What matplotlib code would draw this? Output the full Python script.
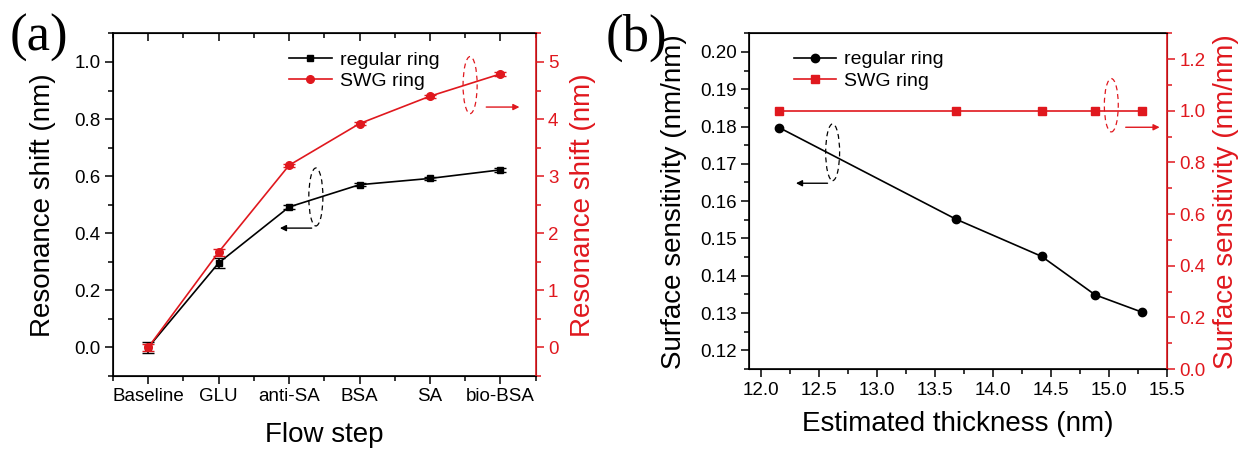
import matplotlib
matplotlib.use("Agg")
import matplotlib.pyplot as plt
import numpy as np
from matplotlib.patches import Ellipse
from matplotlib.lines import Line2D
from matplotlib.ticker import MultipleLocator, FormatStrFormatter

plt.rcParams['font.family'] = ['Liberation Sans', 'DejaVu Sans']

RED = '#e0181e'
TICK_FS = 13.5
LABEL_FS = 20

# panel (a) data
steps = ["Baseline", "GLU", "anti-SA", "BSA", "SA", "bio-BSA"]
regular_shift = [0.0, 0.296, 0.492, 0.570, 0.592, 0.622]
regular_err = [0.02, 0.017, 0.006, 0.006, 0.006, 0.008]
swg_shift = [0.0, 1.67, 3.19, 3.92, 4.40, 4.79]
swg_err = [0.06, 0.06, 0.03, 0.03, 0.03, 0.03]

# panel (b) data
thickness = [12.16, 13.68, 14.42, 14.88, 15.28]
regular_sens = [0.1797, 0.1552, 0.1452, 0.1349, 0.1303]
swg_sens = [1.0, 1.0, 1.0, 1.0, 1.0]

fig = plt.figure(figsize=(12.43, 4.49), dpi=100)


def style_axes(a, a2):
    a.tick_params(axis='both', which='both', direction='out', labelsize=TICK_FS, width=1.1, pad=3)
    a.tick_params(which='major', length=6)
    a.tick_params(which='minor', length=3.5)
    a2.tick_params(axis='y', which='both', direction='out', colors=RED, labelsize=TICK_FS, width=1.1, pad=3)
    a2.tick_params(which='major', length=6)
    a2.tick_params(which='minor', length=3.5)
    a2.spines['right'].set_color(RED)
    for s in ['left', 'top', 'bottom']:
        a.spines[s].set_linewidth(1.2)
    a2.spines['right'].set_linewidth(1.2)


# ---------------- (a) ----------------
ax = fig.add_axes([0.0909, 0.1626, 0.34, 0.763])
ax2 = ax.twinx()
x = np.arange(len(steps))

ax.errorbar(x, regular_shift, yerr=regular_err, color='black', marker='s',
            markersize=5, lw=1.2, capsize=4, elinewidth=1.2)
ax2.errorbar(x, swg_shift, yerr=swg_err, color=RED, marker='o',
             markersize=5.5, lw=1.2, capsize=4, elinewidth=1.2)

ax.set_xlim(-0.5, 5.5)
ax.set_ylim(-0.1, 1.1)
ax2.set_ylim(-0.5, 5.5)
ax.set_xticks(x)
ax.set_xticklabels(steps)
ax.xaxis.set_minor_locator(MultipleLocator(0.5))
ax.yaxis.set_major_locator(MultipleLocator(0.2))
ax.yaxis.set_minor_locator(MultipleLocator(0.1))
ax2.yaxis.set_major_locator(MultipleLocator(1))
ax2.yaxis.set_minor_locator(MultipleLocator(0.5))
ax.yaxis.set_major_formatter(FormatStrFormatter('%.1f'))
style_axes(ax, ax2)

top = ax.secondary_xaxis('top')
top.set_xticks(x)
top.xaxis.set_minor_locator(MultipleLocator(0.5))
top.tick_params(which='both', direction='in', labeltop=False, width=1.1)
top.tick_params(which='major', length=6)
top.tick_params(which='minor', length=3.5)
top.spines['top'].set_visible(False)

ax.set_ylabel('Resonance shift (nm)', fontsize=LABEL_FS, labelpad=13)
ax2.set_ylabel('Resonance shift (nm)', fontsize=LABEL_FS, color=RED, labelpad=8)
ax.set_xlabel('Flow step', fontsize=LABEL_FS, labelpad=12)

h1 = Line2D([], [], color='black', marker='s', markersize=5, lw=1.2)
h2 = Line2D([], [], color=RED, marker='o', markersize=5.5, lw=1.2)
ax.legend([h1, h2], ['regular ring', 'SWG ring'], loc='upper left',
          bbox_to_anchor=(0.375, 1.0), frameon=False, fontsize=14,
          handlelength=2.2, handletextpad=0.4, labelspacing=0.2)

ax.add_patch(Ellipse((2.38, 0.527), 0.2, 0.203, fill=False, ls=(0, (4, 3)),
                     lw=0.9, ec='black'))
ax.annotate('', xy=(1.83, 0.418), xytext=(2.36, 0.418),
            arrowprops=dict(arrowstyle='-|>', color='black', lw=1.0, mutation_scale=9))
ax.add_patch(Ellipse((4.57, 0.919), 0.2, 0.2, fill=False, ls=(0, (4, 3)),
                     lw=0.9, ec=RED))
ax.annotate('', xy=(5.31, 0.842), xytext=(4.76, 0.842),
            arrowprops=dict(arrowstyle='-|>', color=RED, lw=1.0, mutation_scale=9))

fig.text(0.008, 0.915, '(a)', fontsize=38, family='Liberation Serif', va='center')

# ---------------- (b) ----------------
bx = fig.add_axes([0.6026, 0.178, 0.3363, 0.748])
bx2 = bx.twinx()

bx.plot(thickness, regular_sens, color='black', marker='o', markersize=6, lw=1.2)
bx2.plot(thickness, swg_sens, color=RED, marker='s', markersize=5.5, lw=1.2)

bx.set_xlim(11.9, 15.5)
bx.set_ylim(0.115, 0.205)
bx2.set_ylim(0.0, 1.3)
bx.xaxis.set_major_locator(MultipleLocator(0.5))
bx.xaxis.set_minor_locator(MultipleLocator(0.25))
bx.yaxis.set_major_locator(MultipleLocator(0.01))
bx.yaxis.set_minor_locator(MultipleLocator(0.005))
bx2.yaxis.set_major_locator(MultipleLocator(0.2))
bx2.yaxis.set_minor_locator(MultipleLocator(0.1))
bx.xaxis.set_major_formatter(FormatStrFormatter('%.1f'))
bx.yaxis.set_major_formatter(FormatStrFormatter('%.2f'))
bx2.yaxis.set_major_formatter(FormatStrFormatter('%.1f'))
style_axes(bx, bx2)

bx.set_ylabel('Surface sensitivity (nm/nm)', fontsize=LABEL_FS, labelpad=9)
bx2.set_ylabel('Surface sensitivity (nm/nm)', fontsize=LABEL_FS, color=RED, labelpad=5)
bx.set_xlabel('Estimated thickness (nm)', fontsize=LABEL_FS, labelpad=9)

g1 = Line2D([], [], color='black', marker='o', markersize=6, lw=1.2)
g2 = Line2D([], [], color=RED, marker='s', markersize=5.5, lw=1.2)
bx.legend([g1, g2], ['regular ring', 'SWG ring'], loc='upper left',
          bbox_to_anchor=(0.065, 1.0), frameon=False, fontsize=14,
          handlelength=2.2, handletextpad=0.4, labelspacing=0.2)

bx.add_patch(Ellipse((12.62, 0.1731), 0.12, 0.0152, fill=False, ls=(0, (4, 3)),
                     lw=0.9, ec='black'))
bx.annotate('', xy=(12.28, 0.1648), xytext=(12.60, 0.1648),
            arrowprops=dict(arrowstyle='-|>', color='black', lw=1.0, mutation_scale=9))
bx.add_patch(Ellipse((15.02, 0.1857), 0.12, 0.0143, fill=False, ls=(0, (4, 3)),
                     lw=0.9, ec=RED))
bx.annotate('', xy=(15.46, 0.1798), xytext=(15.12, 0.1798),
            arrowprops=dict(arrowstyle='-|>', color=RED, lw=1.0, mutation_scale=9))

fig.text(0.487, 0.915, '(b)', fontsize=38, family='Liberation Serif', va='center')

fig.savefig('out.png', dpi=100)
